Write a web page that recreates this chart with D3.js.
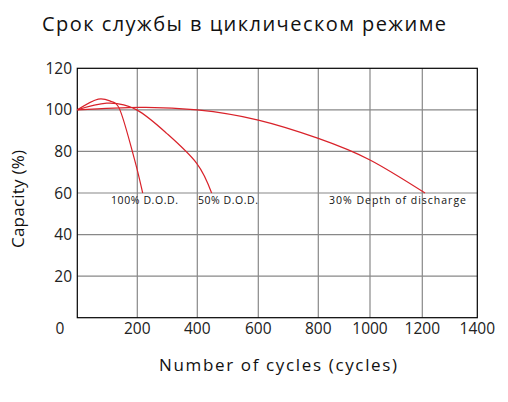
<!DOCTYPE html><html><head><meta charset="utf-8"><script src="https://cdn.jsdelivr.net/npm/d3@7"></script>
<style>body{margin:0;background:#fff}text{font-family:"Open Sans","Noto Sans",sans-serif}</style></head><body><svg id="c" width="508" height="402"></svg><script>
const xTicks=[0,200,400,600,800,1000,1200,1400];
const xPix=[77.3,137.3,197.3,258.3,318.3,370,422.3,477.3];
const yTicks=[20,40,60,80,100,120];
const dod100=[[0,100],[70,105.2],[114,104],[142,100],[176,84],[200,71],[218,60]];
const dod50=[[0,100],[98,103.2],[198,100],[298,88.7],[398,74.3],[447,60]];
const dod30=[[0,100],[209,101.2],[400,100],[600,95.1],[800,86.3],[1000,75.9],[1210,60]];
const labels=[["100% D.O.D.",111,67],["50% D.O.D.",198,60],["30% Depth of discharge",329,137]];
const svg=d3.select("#c");
const x=d3.scaleLinear().domain(xTicks).range(xPix);
const y=d3.scaleLinear().domain([0,120]).range([317.7,68.3]);
const g=svg.append("g");
g.selectAll(".vx").data(xTicks.slice(1,-1)).join("line").attr("x1",d=>x(d)).attr("x2",d=>x(d)).attr("y1",y(0)).attr("y2",y(120)).attr("stroke","#888").attr("stroke-width",1.2);
g.selectAll(".hy").data(yTicks.slice(0,-1)).join("line").attr("x1",x(0)).attr("x2",x(1400)).attr("y1",d=>y(d)).attr("y2",d=>y(d)).attr("stroke","#888").attr("stroke-width",1.2);
g.append("rect").attr("x",x(0)).attr("y",y(120)).attr("width",x(1400)-x(0)).attr("height",y(0)-y(120)).attr("fill","none").attr("stroke","#000").attr("stroke-width",1.2);
const line=d3.line().x(d=>x(d[0])).y(d=>y(d[1])).curve(d3.curveNatural);
[dod100,dod50,dod30].forEach(s=>g.append("path").attr("d",line(s)).attr("fill","none").attr("stroke","#d9222a").attr("stroke-width",1.2));
g.selectAll(".lb").data(labels).join("text").attr("x",d=>d[1]).attr("y",204).attr("font-size",10.5).attr("fill","#111").attr("textLength",d=>d[2]).text(d=>d[0]);
g.selectAll(".yt").data(yTicks).join("text").attr("x",72).attr("y",d=>y(d)+5.5).attr("text-anchor","end").attr("font-size",15.5).attr("fill","#222").text(d=>d);
g.selectAll(".xt").data(xTicks).join("text").attr("x",d=>d===0?60:x(d)).attr("y",334).attr("text-anchor","middle").attr("font-size",15.5).attr("fill","#222").text(d=>d);
svg.append("text").attr("x",42).attr("y",31).attr("font-size",20).attr("fill","#111").attr("textLength",404).text("Срок службы в циклическом режиме");
svg.append("text").attr("transform","translate(24,199) rotate(-90)").attr("text-anchor","middle").attr("font-size",17).attr("fill","#111").attr("textLength",98).text("Capacity (%)");
svg.append("text").attr("x",159).attr("y",371).attr("font-size",17).attr("fill","#111").attr("textLength",238).text("Number of cycles (cycles)");
</script></body></html>
